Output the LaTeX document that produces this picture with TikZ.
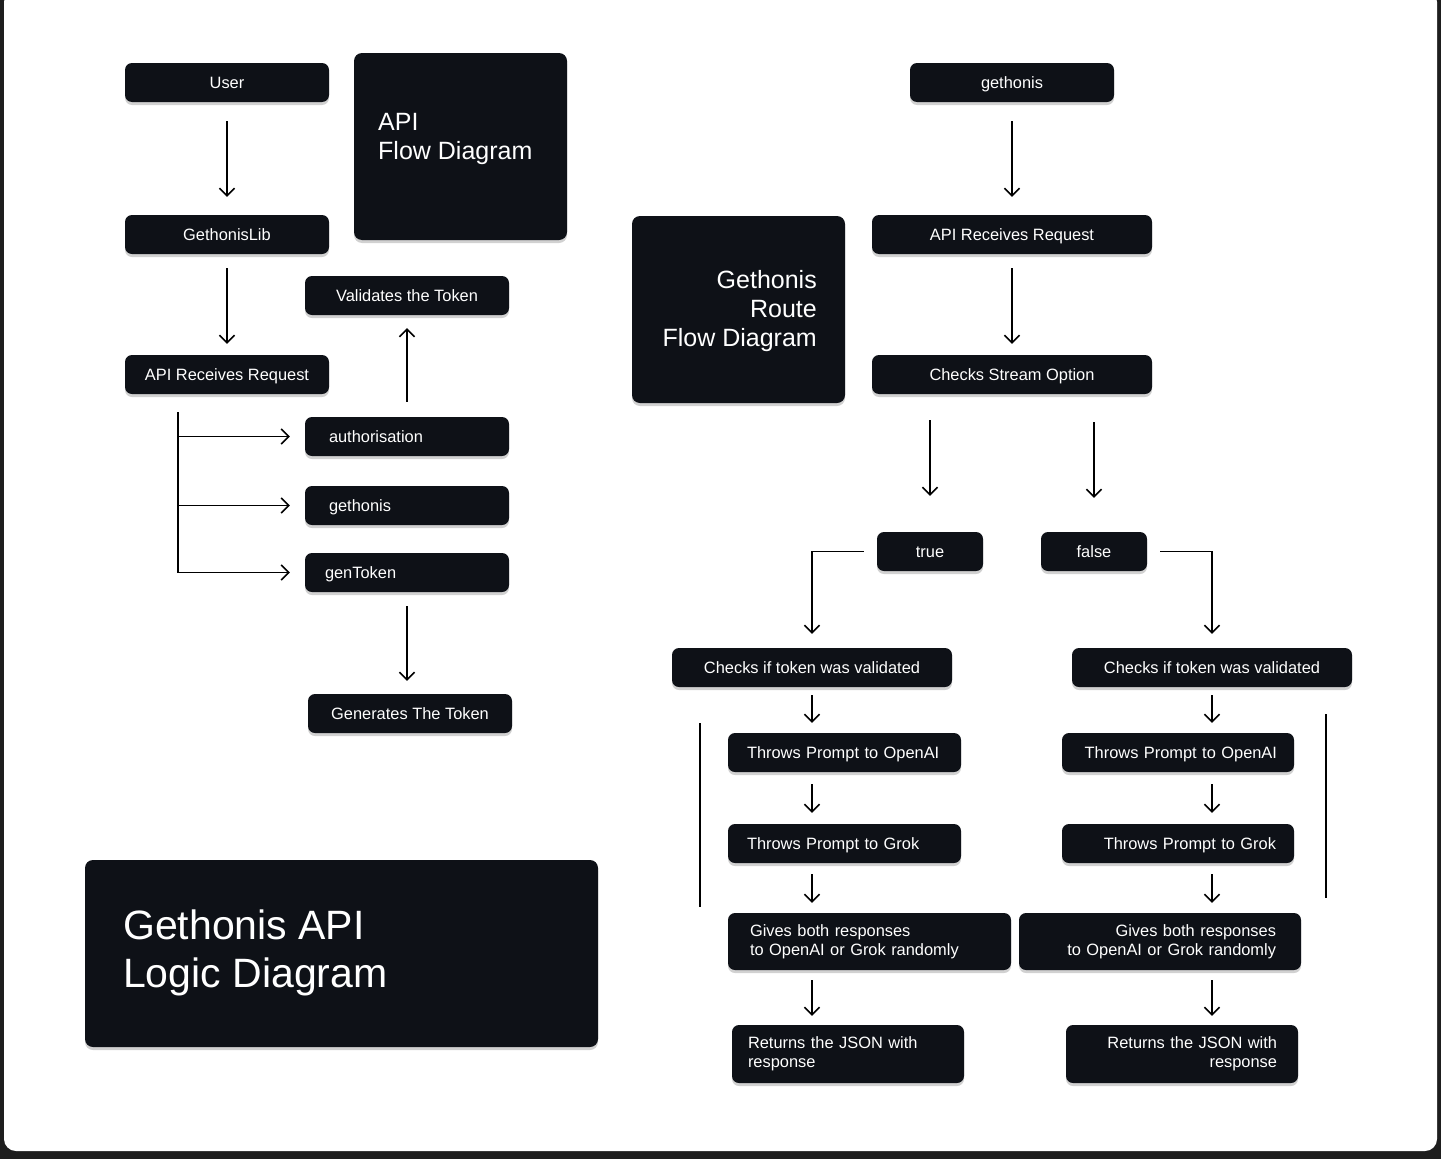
\documentclass[tikz,border=0pt]{standalone}
\usepackage{fontspec}
\setmainfont{Liberation Sans}
\usetikzlibrary{arrows.meta,shadows}
\definecolor{boxc}{HTML}{0E1117}
\definecolor{framec}{HTML}{1E1E1E}
\tikzset{
  box/.style={fill=boxc, rounded corners=7pt, text=white, inner ysep=0pt,
    font=\fontsize{16.4}{19}\selectfont, minimum height=39pt,
    drop shadow={shadow xshift=0pt, shadow yshift=-3pt, fill=black, opacity=0.18}},
  sbox/.style={box, text height=14.7pt, text depth=3pt},
  bigbox/.style={fill=boxc, rounded corners=8pt, inner sep=0pt,
    drop shadow={shadow xshift=0pt, shadow yshift=-3pt, fill=black, opacity=0.18}},
  ctext/.style={align=center, inner xsep=0pt},
  ltext/.style={align=left, text width=#1},
  rtext/.style={align=right, text width=#1},
  arr/.style={draw=black, line width=1.6pt, -{Straight Barb[length=7.5pt,width=15pt,line width=1.6pt]}},
  plain/.style={draw=black, line width=1.6pt},
  titlefont/.style={text=white, inner sep=0pt, font=\fontsize{25}{29}\selectfont},
}
\begin{document}
\begin{tikzpicture}[x=1pt,y=-1pt]
\useasboundingbox (0,0) rectangle (1441,1159);
\fill[framec] (0,0) rectangle (1441,1159);
\fill[white, rounded corners=12pt] (4,-10) rectangle (1437,1151);

% ---------------- left diagram ----------------
\node[sbox, ctext, minimum width=204pt] (user) at (227,82.5) {User};
\node[sbox, ctext, minimum width=204pt] (lib) at (227,234.5) {GethonisLib};
\node[bigbox, minimum width=213pt, minimum height=187pt] (apibox) at (460.5,146.5) {};
\node[titlefont, align=left, anchor=west] (apit) at (378,138.5) {API\\Flow Diagram};
\node[sbox, ctext, minimum width=204pt] (val) at (407,295.5) {Validates the Token};
\node[sbox, ctext, minimum width=204pt] (recvL) at (227,374.5) {API Receives Request};
\node[sbox, ltext=156pt, inner xsep=24pt] (auth) at (407,436.5) {\mbox{authorisation}};
\node[sbox, ltext=156pt, inner xsep=24pt] (gethL) at (407,505.5) {\mbox{gethonis}};
\node[sbox, ltext=164pt, inner xsep=20pt] (gen) at (407,572.5) {\mbox{genToken}};
\node[sbox, ctext, minimum width=204pt] (gentok) at (410,713.5) {Generates The Token};

\node[bigbox, minimum width=513pt, minimum height=187pt] (logicbox) at (341.5,953.5) {};
\node[titlefont, font=\fontsize{41}{48}\selectfont, align=left, anchor=west] (logict) at (123,953) {Gethonis API\\Logic Diagram};

\draw[arr, shorten <=19pt, shorten >=18pt] (user) -- (lib);
\draw[arr, shorten <=14pt, shorten >=11pt] (lib) -- (recvL);
\draw[arr, shorten <=15pt, shorten >=13pt] (auth) -- (val);
\draw[arr, shorten <=14pt, shorten >=13pt] (gen.south) -- (gen.south |- gentok.north);

\coordinate (btop) at ([xshift=-49pt,yshift=-18pt]recvL.south);
\draw[plain] (btop) -- ([yshift=-0.8pt]btop |- gen.west);
\draw[arr, shorten >=15pt] (btop |- auth.west) -- (auth.west);
\draw[arr, shorten >=15pt] (btop |- gethL.west) -- (gethL.west);
\draw[arr, shorten >=15pt] ([xshift=-0.8pt]btop |- gen.west) -- (gen.west);

% ---------------- right diagram ----------------
\node[bigbox, minimum width=213pt, minimum height=187pt] (routebox) at (738.5,309.5) {};
\node[titlefont, align=right, anchor=east] (routet) at (817,311) {Gethonis\\Route\\Flow Diagram};

\node[sbox, ctext, minimum width=204pt] (gethR) at (1012,82.5) {gethonis};
\node[sbox, ctext, minimum width=280pt] (recvR) at (1012,234.5) {API Receives Request};
\node[sbox, ctext, minimum width=280pt] (stream) at (1012,374.5) {Checks Stream Option};
\node[sbox, ctext, minimum width=106pt] (tru) at (930,551.5) {true};
\node[sbox, ctext, minimum width=106pt] (fals) at (1094,551.5) {false};

\node[sbox, ctext, minimum width=280pt] (chkL) at (812,667.5) {Checks if token was validated};
\node[sbox, ctext, minimum width=280pt] (chkR) at (1212,667.5) {Checks if token was validated};
\node[sbox, ltext=195pt, inner xsep=19pt] (openL) at (844.5,752.5) {\mbox{Throws Prompt to OpenAI}};
\node[sbox, rtext=198pt, inner xsep=17pt] (openR) at (1178,752.5) {\mbox{Throws Prompt to OpenAI}};
\node[sbox, ltext=195pt, inner xsep=19pt] (grokL) at (844.5,843.5) {\mbox{Throws Prompt to Grok}};
\node[sbox, rtext=196pt, inner xsep=18pt] (grokR) at (1178,843.5) {\mbox{Throws Prompt to Grok}};
\node[box, ltext=239pt, inner xsep=22pt, minimum height=57pt] (givesL) at (869.5,941.5) {\mbox{Gives both responses}\\\mbox{to OpenAI or Grok randomly}};
\node[box, rtext=232pt, inner xsep=25pt, minimum height=57pt] (givesR) at (1160,941.5) {\mbox{Gives both responses}\\\mbox{to OpenAI or Grok randomly}};
\node[box, ltext=200pt, inner xsep=16pt, minimum height=58pt] (retL) at (848,1054) {\mbox{Returns the JSON with}\\\mbox{response}};
\node[box, rtext=190pt, inner xsep=21pt, minimum height=58pt] (retR) at (1182,1054) {\mbox{Returns the JSON with}\\\mbox{response}};

\draw[arr, shorten <=19pt, shorten >=18pt] (gethR) -- (recvR);
\draw[arr, shorten <=14pt, shorten >=11pt] (recvR) -- (stream);
\draw[arr, shorten <=26pt, shorten >=36pt] (stream.south -| tru.north) -- (tru.north);
\draw[arr, shorten <=28pt, shorten >=34pt] (stream.south -| fals.north) -- (fals.north);
\draw[arr, shorten >=14pt] ([xshift=-13pt]tru.west) -| (chkL.north);
\draw[arr, shorten >=14pt] ([xshift=13pt]fals.east) -| (chkR.north);

\draw[arr, shorten <=8pt, shorten >=10pt] (chkL.south) -- (chkL.south |- openL.north);
\draw[arr, shorten <=12pt, shorten >=11pt] (chkL.south |- openL.south) -- (chkL.south |- grokL.north);
\draw[arr, shorten <=11pt, shorten >=10pt] (chkL.south |- grokL.south) -- (chkL.south |- givesL.north);
\draw[arr, shorten <=10pt, shorten >=9pt] (chkL.south |- givesL.south) -- (chkL.south |- retL.north);

\draw[arr, shorten <=8pt, shorten >=10pt] (chkR.south) -- (chkR.south |- openR.north);
\draw[arr, shorten <=12pt, shorten >=11pt] (chkR.south |- openR.south) -- (chkR.south |- grokR.north);
\draw[arr, shorten <=11pt, shorten >=10pt] (chkR.south |- grokR.south) -- (chkR.south |- givesR.north);
\draw[arr, shorten <=10pt, shorten >=9pt] (chkR.south |- givesR.south) -- (chkR.south |- retR.north);

\coordinate (vla) at (700,723);
\coordinate (vlb) at (700,907);
\coordinate (vra) at (1326,714);
\coordinate (vrb) at (1326,898);
\draw[plain] (vla) -- (vlb);
\draw[plain] (vra) -- (vrb);
\end{tikzpicture}
\end{document}
